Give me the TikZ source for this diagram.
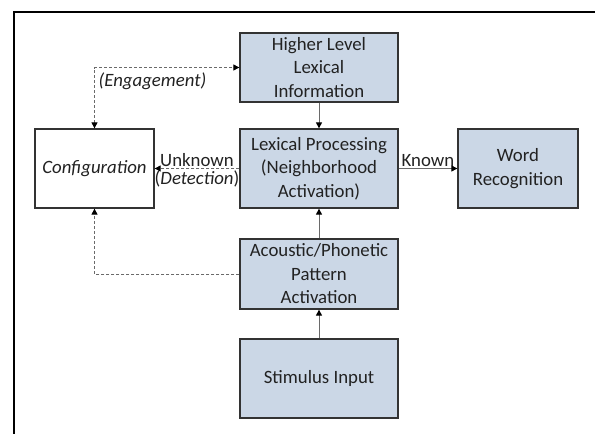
\documentclass[tikz,border=0pt]{standalone}
\usepackage{fontspec}
\setmainfont{Carlito}
\usetikzlibrary{arrows.meta,positioning}
\definecolor{boxfill}{HTML}{CBD7E6}
\definecolor{boxline}{HTML}{333333}
\definecolor{conn}{HTML}{6A6A6A}
\definecolor{ink}{HTML}{222222}
\tikzset{
  bluebox/.style={draw=boxline, fill=boxfill, line width=1.3pt, inner sep=0pt, align=center, text=ink},
  whitebox/.style={draw=boxline, fill=white, line width=1.3pt, inner sep=0pt, align=center, text=ink},
  solidconn/.style={draw=conn, line width=1pt, -{Triangle[length=6pt,width=6pt,fill=black,color=black]}},
  dashconn/.style={draw=conn, line width=1pt, dash pattern=on 3pt off 2pt},
  tip/.style={-{Triangle[length=6pt,width=6pt,fill=black,color=black]}},
  lbl/.style={text=ink, inner sep=1.5pt}
}
\begin{document}
\begin{tikzpicture}[x=1pt,y=-1pt,font=\fontsize{18.8}{23.5}\selectfont]
\useasboundingbox (0,0) rectangle (595,434);
\draw[line width=1.5pt, black] (14,434) -- (14,12) -- (595,12);

\node[bluebox, minimum width=158, minimum height=69] (hi) at (319,67.5) {Higher Level\\Lexical\\Information};
\node[bluebox, minimum width=158, minimum height=79] (lex) at (319,168.5) {Lexical Processing\\(Neighborhood\\Activation)};
\node[bluebox, minimum width=120, minimum height=79] (word) at (518,168.5) {Word\\Recognition};
\node[whitebox, minimum width=119, minimum height=79] (cfg) at (94.5,168.5) {\itshape Configuration};
\node[bluebox, minimum width=158, minimum height=70] (ac) at (319,274) {Acoustic/Phonetic\\Pattern\\Activation};
\node[bluebox, minimum width=158, minimum height=79] (st) at (319,378.5) {Stimulus Input};

\draw[solidconn] (hi) -- (lex);
\draw[solidconn] (ac) -- (lex);
\draw[solidconn] (st) -- (ac);
\draw[solidconn] (lex.east) -- node[lbl, above] {Known} (word.west);

\draw[dashconn, tip] (lex.west) -- node[lbl, above] {Unknown} node[lbl, below] {(\textit{Detection})} (cfg.east);
\draw[dashconn, {Triangle[length=6pt,width=6pt,fill=black,color=black]}-{Triangle[length=6pt,width=6pt,fill=black,color=black]}] (cfg.north) |- node[lbl, pos=0.7, below, yshift=-3pt] {\itshape (Engagement)} (hi.west);
\draw[dashconn, tip] (ac.west) -| (cfg.south);
\end{tikzpicture}
\end{document}
